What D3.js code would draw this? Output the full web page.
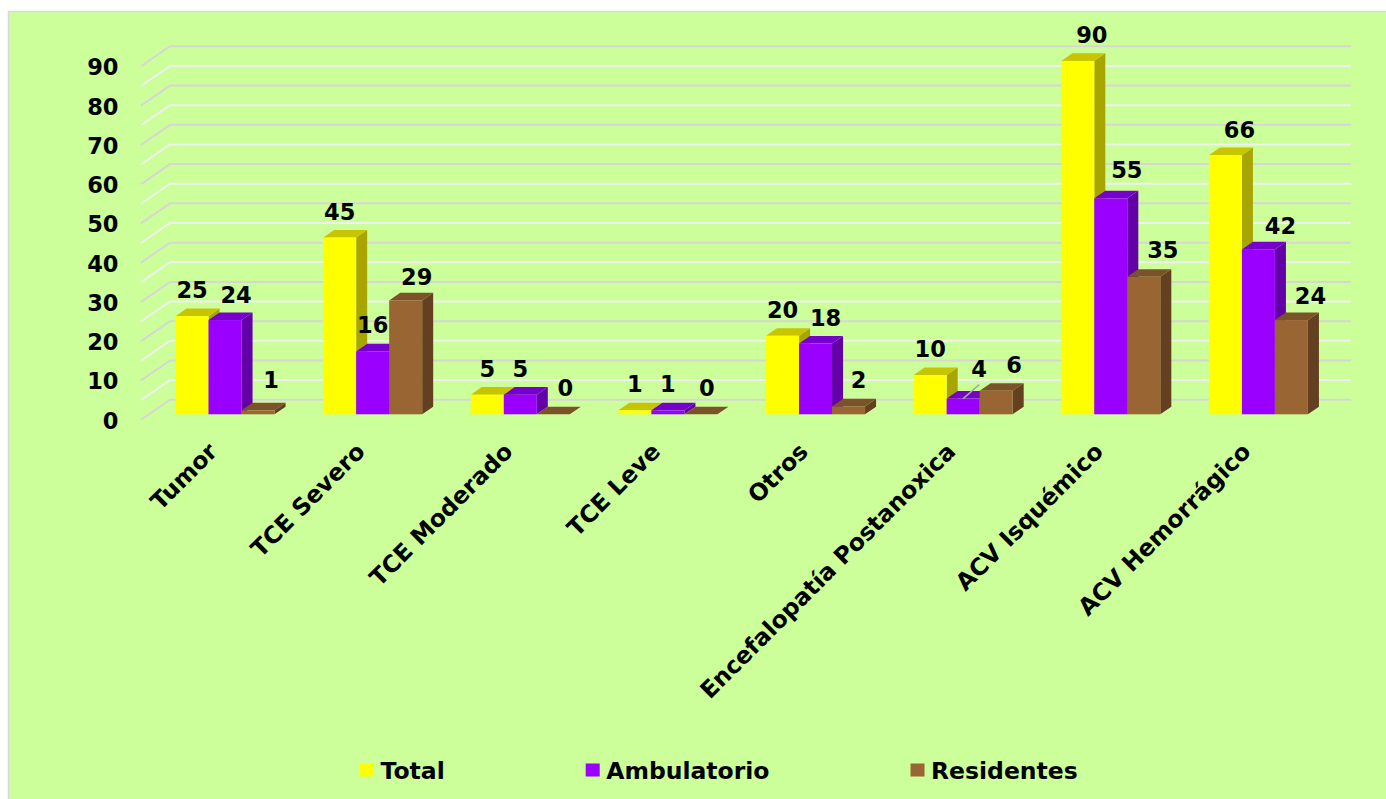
<!DOCTYPE html>
<html>
<head>
<meta charset="utf-8">
<script src="https://cdn.jsdelivr.net/npm/d3@7/dist/d3.min.js"></script>
<style>
  html, body { margin: 0; padding: 0; background: #ffffff; }
  svg { display: block; }
  text { font-family: "DejaVu Sans", Verdana, sans-serif; font-weight: bold; fill: #000; }
</style>
</head>
<body>
<svg id="chart" width="1386" height="799"></svg>
<script>
// ---- data ----
const categories = ["Tumor", "TCE Severo", "TCE Moderado", "TCE Leve", "Otros",
  "Encefalopatía Postanoxica", "ACV Isquémico", "ACV Hemorrágico"];
const seriesNames = ["Total", "Ambulatorio", "Residentes"];
const totalValues = [25, 45, 5, 1, 20, 10, 90, 66];
const ambulatorioValues = [24, 16, 5, 1, 18, 4, 55, 42];
const residentesValues = [1, 29, 0, 0, 2, 6, 35, 24];
const yTickValues = [0, 10, 20, 30, 40, 50, 60, 70, 80, 90];
const gridValues = d3.range(0, 91, 5);

// ---- style / layout ----
const colors = {
  Total:       { front: "#FFFF00", top: "#C9C400", side: "#A8A400" },
  Ambulatorio: { front: "#9900FF", top: "#7700CC", side: "#6400A8" },
  Residentes:  { front: "#996633", top: "#7B522A", side: "#643F20" }
};
const depthVec = [29, -20];          // full floor depth projected
const barZ0 = 0.27, barDZ = 0.38;    // bar position inside depth
const barW = 33;
// label nudges (dx, dy) relative to default placement, per series per category
const labelNudge = {
  Total:       [[0,0],[0,0],[0,0],[0,0],[0,0],[0,0],[14,0],[14,1]],
  Ambulatorio: [[11,1],[0,0],[0,0],[0,0],[10,0],[16,-4],[16,-2],[22,3]],
  Residentes:  [[13,-4],[11,3],[12,0],[6,0],[10,0],[18,0],[19,-1],[19,2]]
};

const svg = d3.select("#chart");
const W = 1386, H = 799;

// background panel with border
svg.append("rect").attr("x", 8.5).attr("y", 11.5).attr("width", W).attr("height", H)
  .attr("fill", "#CCFF99").attr("stroke", "#D9D9D9").attr("stroke-width", 1.5);

const x = d3.scaleBand().domain(categories).range([141, 1322]);
const xs = d3.scaleBand().domain(seriesNames).range([0, barW * 3]);
const y = d3.scaleLinear().domain([0, 90]).range([419.7, 66.3]);

function P(px, py, z) { return [px + depthVec[0] * z, py + depthVec[1] * z]; }

// gridlines (diagonal on side wall + horizontal on back wall)
const grid = svg.append("g");
gridValues.forEach(v => {
  const f = [141, y(v)];
  const b = P(141, y(v), 1);
  const bEnd = P(1322, y(v), 1);
  grid.append("polyline")
    .attr("points", [f, b, bEnd].map(p => p.join(",")).join(" "))
    .attr("fill", "none")
    .attr("stroke", v % 10 === 0 ? "#D6D6D6" : "#F0F0F0")
    .attr("stroke-width", 2);
});

// y axis labels
svg.append("g").selectAll("text").data(yTickValues).join("text")
  .attr("x", 118.5).attr("y", d => y(d) + 2.5)
  .attr("text-anchor", "end").attr("dominant-baseline", "middle")
  .style("font-size", "22.5px").text(d => d);

// bars
const seriesData = [totalValues, ambulatorioValues, residentesValues];
const bars = svg.append("g");
const labels = svg.append("g");
categories.forEach((c, i) => {
  const groupOff = (x.bandwidth() - barW * 3) / 2 + 2.4;
  seriesNames.forEach((s, j) => {
    const v = seriesData[j][i];
    const x0 = x(c) + groupOff + xs(s);
    const base = P(x0, y(0), barZ0);
    const topP = P(x0, y(v), barZ0);
    const fx = base[0], fb = base[1], ft = topP[1];
    const dx = depthVec[0] * barDZ, dy = depthVec[1] * barDZ;
    const col = colors[s];
    const g = bars.append("g");
    // side face
    g.append("path")
      .attr("d", `M${fx + barW},${fb} L${fx + barW + dx},${fb + dy} L${fx + barW + dx},${ft + dy} L${fx + barW},${ft} Z`)
      .attr("fill", col.side);
    // top face
    g.append("path")
      .attr("d", `M${fx},${ft} L${fx + dx},${ft + dy} L${fx + barW + dx},${ft + dy} L${fx + barW},${ft} Z`)
      .attr("fill", col.top);
    // front face
    g.append("rect").attr("x", fx).attr("y", ft).attr("width", barW).attr("height", Math.max(0, fb - ft))
      .attr("fill", col.front);

    const nd = labelNudge[s][i];
    const lx = fx + barW / 2 + nd[0];
    const ly = ft - 18 + nd[1];
    if (Math.abs(nd[1]) >= 4 && nd[0] >= 15) {
      labels.append("line")
        .attr("x1", fx + barW / 2).attr("y1", ft)
        .attr("x2", lx).attr("y2", ly + 8)
        .attr("stroke", "#A6A6A6").attr("stroke-width", 1.5);
    }
    labels.append("text").attr("x", lx).attr("y", ly)
      .attr("text-anchor", "middle").style("font-size", "22.5px").text(v);
  });
});

// category labels (rotated)
svg.append("g").selectAll("text").data(categories).join("text")
  .attr("transform", d => `translate(${x(d) + x.bandwidth() / 2 + 4},${453}) rotate(-45)`)
  .attr("text-anchor", "end")
  .style("font-size", "23.5px").text(d => d);

// legend
const legend = svg.append("g");
let lxPos = 360;
seriesNames.forEach(s => {
  legend.append("rect").attr("x", lxPos).attr("y", 763.5).attr("width", 14).attr("height", 13)
    .attr("fill", colors[s].front);
  const t = legend.append("text").attr("x", lxPos + 20.5).attr("y", 779.3)
    .style("font-size", "23.5px").text(s);
  const w = t.node().getComputedTextLength();
  lxPos = lxPos + 20.5 + w + 141;
});
</script>
</body>
</html>
